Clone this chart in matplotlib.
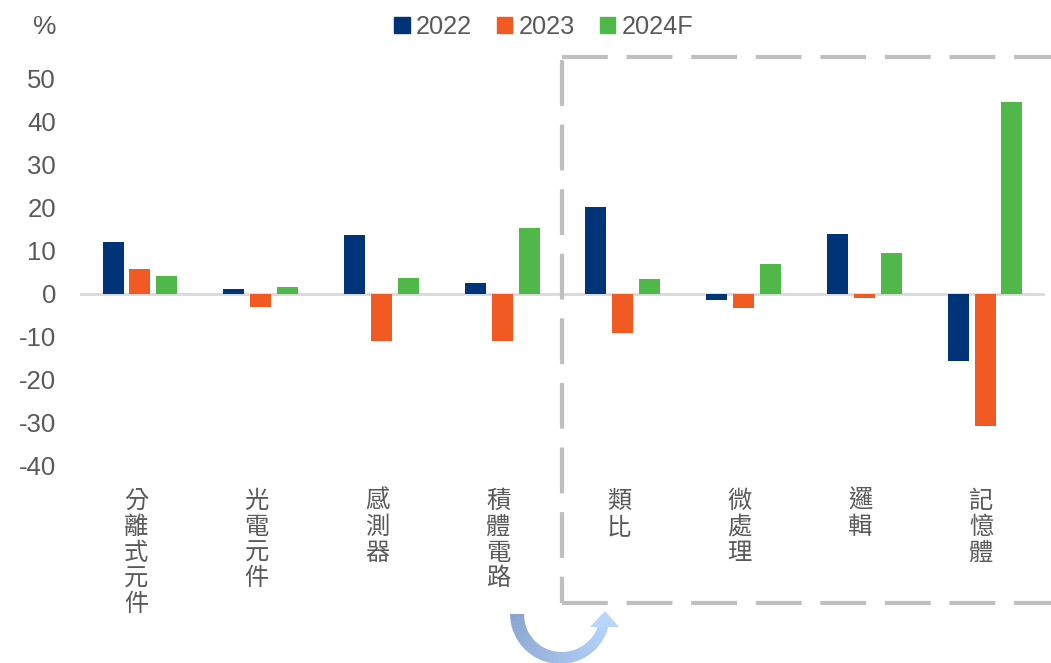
import numpy as np
import matplotlib
matplotlib.use("Agg")
import matplotlib.pyplot as plt
from matplotlib.patches import Patch, Polygon
from matplotlib.transforms import offset_copy

plt.rcParams['font.family'] = ['Liberation Sans', 'Noto Sans CJK TC', 'DejaVu Sans']

categories = ['分離式元件', '光電元件', '感測器', '積體電路', '類比', '微處理', '邏輯', '記憶體']
years = ['2022', '2023', '2024F']
v2022 = [12.1, 1.2, 13.7, 2.6, 20.2, -1.5, 14.0, -15.6]
v2023 = [5.8, -3.0, -10.9, -10.9, -9.0, -3.3, -0.9, -30.8]
v2024 = [4.2, 1.7, 3.7, 15.4, 3.6, 7.0, 9.6, 44.6]
yticks = [50, 40, 30, 20, 10, 0, -10, -20, -30, -40]
colors = ['#003478', '#f15a22', '#50b848']
txt = '#595959'

W, H = 1051, 663
fig = plt.figure(figsize=(W / 100, H / 100), dpi=100)
ax = fig.add_axes([79.6 / W, 1 - 466 / H, 965.8 / W, 387 / H])

x = np.arange(len(categories))
step, bw = 0.223, 0.174
for k, (vals, c) in enumerate(zip([v2022, v2023, v2024], colors)):
    ax.bar(x + (k - 1) * step, vals, bw, color=c, zorder=3)

ax.axhline(0, color='#d9d9d9', lw=2, zorder=2)
ax.set_xlim(-0.5, len(categories) - 0.5)
ax.set_ylim(-40, 50)
ax.set_yticks(yticks)
ax.set_yticklabels([str(t) for t in yticks], fontsize=18.5, color=txt)
ax.tick_params(axis='y', length=0, pad=17)
ax.set_xticks([])
for s in ax.spines.values():
    s.set_visible(False)

# category labels, one character per line
lab_tr = offset_copy(ax.get_xaxis_transform(), fig=fig, x=-4, y=-22, units='dots')
for i, name in enumerate(categories):
    ax.text(i, 0, '\n'.join(name), transform=lab_tr, ha='center', va='top',
            fontsize=17.5, color=txt, linespacing=0.99,
            family=['Noto Sans CJK TC', 'DejaVu Sans'])

# legend and unit
handles = [Patch(color=c) for c in colors]
fig.legend(handles, years, loc='center', bbox_to_anchor=(544 / W, 1 - 27 / H), ncol=3,
           frameon=False, fontsize=18.2, handlelength=0.6, handleheight=0.6,
           handletextpad=0.25, columnspacing=1.0, labelcolor=txt)
fig.text(45 / W, 1 - 27 / H, '%', fontsize=19, color=txt, ha='center', va='center')

# overlay in pixel coordinates for the dashed box and the arrow
ov = fig.add_axes([0, 0, 1, 1], zorder=5)
ov.set_xlim(0, W)
ov.set_ylim(H, 0)
ov.axis('off')
ov.plot([562, 1051], [57, 57], color='#bfbfbf', lw=3, dashes=(11, 4.5))
ov.plot([562, 562], [60, 603], color='#bfbfbf', lw=3, dashes=(11, 4.5))
ov.plot([562, 1051], [603, 603], color='#bfbfbf', lw=3, dashes=(11, 4.5))

cx, cy, r, half = 561, 614, 44, 7
ang = np.linspace(np.pi, 2 * np.pi - 0.05, 40)
c0 = np.array(matplotlib.colors.to_rgb('#8aa5cf'))
c1 = np.array(matplotlib.colors.to_rgb('#b8d6fd'))
for i in range(len(ang) - 1):
    a0, a1 = ang[i], ang[i + 1] + 0.01
    t = i / (len(ang) - 2)
    w0 = half * (1 - 0.3 * t)
    pts = [(cx + (r + w0) * np.cos(a0), cy - (r + w0) * np.sin(a0)),
           (cx + (r + w0) * np.cos(a1), cy - (r + w0) * np.sin(a1)),
           (cx + (r - w0) * np.cos(a1), cy - (r - w0) * np.sin(a1)),
           (cx + (r - w0) * np.cos(a0), cy - (r - w0) * np.sin(a0))]
    ov.add_patch(Polygon(pts, closed=True, color=c0 * (1 - t) + c1 * t, lw=0))
ov.add_patch(Polygon([(590, 627), (619, 627), (605, 611)], closed=True, color=c1, lw=0))

fig.savefig('out.png', dpi=100)
